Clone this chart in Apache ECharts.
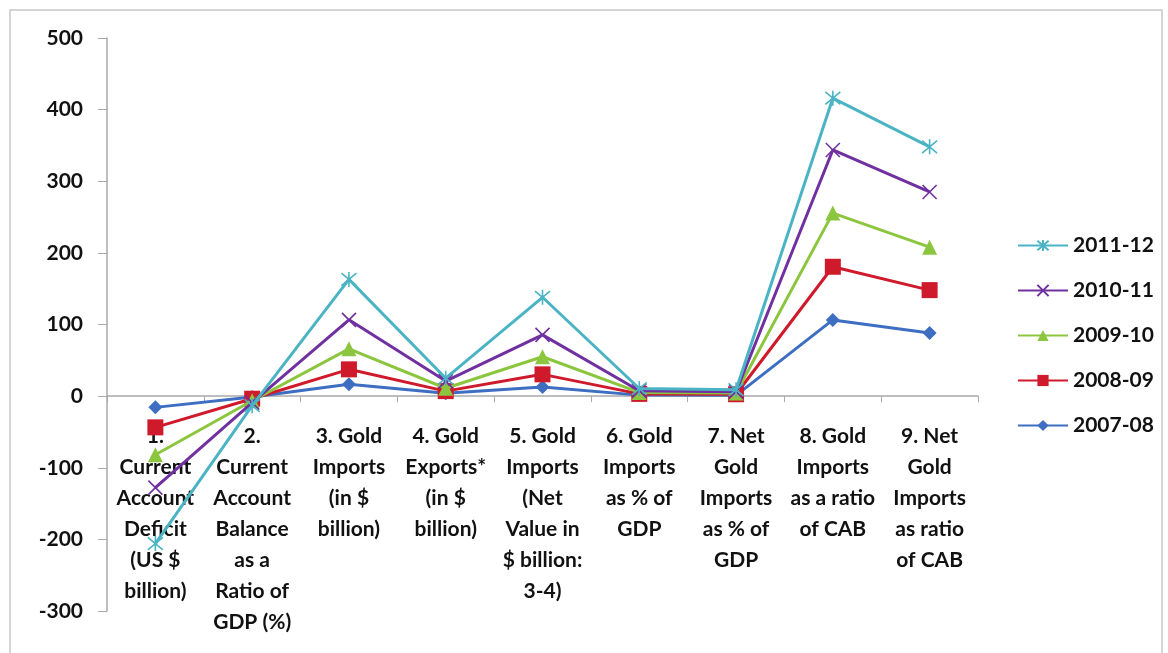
<!DOCTYPE html>
<html>
<head>
<meta charset="utf-8">
<script src="https://cdn.jsdelivr.net/npm/echarts@6/dist/echarts.min.js"></script>
<style>
  html, body { margin: 0; padding: 0; background: #fff; }
  #chart { width: 1168px; height: 653px; }
</style>
</head>
<body>
<div id="chart"></div>
<script>
// Indicator categories (x axis)
const categories = [
  "1.\nCurrent\nAccount\nDeficit\n(US $\nbillion)",
  "2.\nCurrent\nAccount\nBalance\nas a\nRatio of\nGDP (%)",
  "3. Gold\nImports\n(in $\nbillion)",
  "4. Gold\nExports*\n(in $\nbillion)",
  "5. Gold\nImports\n(Net\nValue in\n$ billion:\n3-4)",
  "6. Gold\nImports\nas % of\nGDP",
  "7. Net\nGold\nImports\nas % of\nGDP",
  "8. Gold\nImports\nas a ratio\nof CAB",
  "9. Net\nGold\nImports\nas ratio\nof CAB"
];

// Yearly values (the lines are stacked, each year sits on the previous ones)
const y2007_08 = [-15.7, -1.3, 16.7, 4.0, 12.7, 1.4, 1.1, 106.4, 88.0];
const y2008_09 = [-27.9, -2.3, 20.7, 3.0, 17.7, 1.7, 1.5, 74.2, 60.0];
const y2009_10 = [-38.2, -2.8, 28.6, 4.0, 24.6, 2.1, 1.8, 74.9, 60.0];
const y2010_11 = [-45.9, -2.7, 40.5, 10.0, 30.5, 2.4, 1.8, 88.2, 77.0];
const y2011_12 = [-78.2, -4.2, 56.5, 4.0, 52.5, 3.0, 2.8, 72.3, 63.0];

const yearNames = ["2007-08", "2008-09", "2009-10", "2010-11", "2011-12"];
const yTicks = { min: -300, max: 500, interval: 100 };

const FONT = "Lato";
const xMark = "path://M0,0L10,10M10,0L0,10";
const starMark = "path://M0,0L10,10M10,0L0,10M5,-1L5,11";

const seriesStyle = [
  { data: y2007_08, color: "#3D6EC2", symbol: "diamond", size: 14, stroke: false },
  { data: y2008_09, color: "#CF1A2C", symbol: "rect", size: 16, stroke: false },
  { data: y2009_10, color: "#8CC63F", symbol: "triangle", size: 15, stroke: false },
  { data: y2010_11, color: "#7030A0", symbol: xMark, size: 14, stroke: true },
  { data: y2011_12, color: "#4BB4C4", symbol: starMark, size: 15, stroke: true }
];

const series = seriesStyle.map((s, i) => ({
  name: yearNames[i],
  type: "line",
  stack: "total",
  data: s.data,
  symbol: s.symbol,
  symbolSize: s.size,
  showAllSymbol: true,
  lineStyle: { color: s.color, width: 3 },
  itemStyle: s.stroke
    ? { color: "rgba(0,0,0,0)", borderColor: s.color, borderWidth: 1.6 }
    : { color: s.color, borderColor: s.color, borderWidth: 0 },
  z: 2 + i
}));

const chart = echarts.init(document.getElementById("chart"), null, { renderer: "canvas" });
chart.setOption({
  animation: false,
  backgroundColor: "#fff",
  graphic: [{
    type: "rect",
    shape: { x: 10, y: 10, width: 1152, height: 650 },
    style: { fill: "none", stroke: "#c8c8c8", lineWidth: 1.5 },
    silent: true
  }],
  grid: { left: 107, right: 190, top: 38, bottom: 42, containLabel: false, outerBoundsMode: "none" },
  legend: {
    orient: "vertical",
    left: 1012,
    top: 230,
    itemWidth: 50,
    itemHeight: 14,
    itemGap: 24,
    data: yearNames.slice().reverse(),
    textStyle: { fontFamily: FONT, fontWeight: "bold", fontSize: 21, color: "#111", padding: [0, 0, 0, 0] }
  },
  xAxis: {
    type: "category",
    data: categories,
    boundaryGap: true,
    axisLine: { onZero: true, lineStyle: { color: "#a9a9a9", width: 1.5 } },
    axisTick: { show: true, length: 6, lineStyle: { color: "#a9a9a9" } },
    axisLabel: {
      interval: 0,
      margin: -190,
      fontFamily: FONT,
      fontWeight: "bold",
      fontSize: 21,
      lineHeight: 31,
      color: "#111",
      align: "center"
    },
    splitLine: { show: false }
  },
  yAxis: {
    type: "value",
    min: yTicks.min,
    max: yTicks.max,
    interval: yTicks.interval,
    axisLine: { show: true, lineStyle: { color: "#a9a9a9", width: 1.5 } },
    axisTick: { show: true, length: 9, lineStyle: { color: "#a9a9a9" } },
    axisLabel: { margin: 24, fontFamily: FONT, fontWeight: "bold", fontSize: 21, color: "#111" },
    splitLine: { show: false }
  },
  series: series
});
</script>
</body>
</html>
